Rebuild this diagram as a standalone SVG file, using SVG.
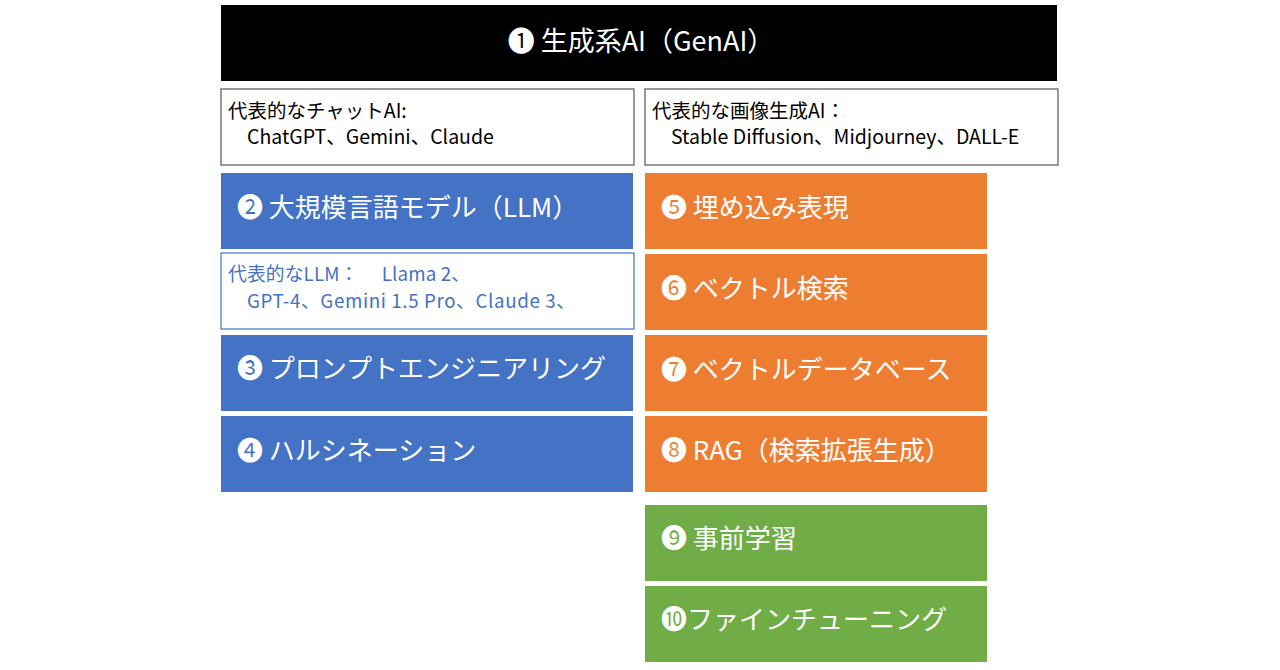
<svg xmlns="http://www.w3.org/2000/svg" width="1280" height="670" viewBox="0 0 1280 670">
<style>
text{font-family:"Noto Sans CJK JP","DejaVu Sans",sans-serif}
.big{font-size:26px;fill:#fff}
.sm{font-size:19.5px;fill:#000}
.smb{font-size:18.8px;fill:#4472C4}
.blue{fill:#4472C4}
.orange{fill:#ED7D31}
.green{fill:#70AD47}
.note{fill:#fff;stroke:#555;stroke-width:1.2}
</style>
<rect width="1280" height="670" fill="#fff"/>
<g id="n1"><rect x="221" y="5" width="836" height="76" fill="#000"/><text x="641" y="51" text-anchor="middle" class="big" style="font-size:27px">❶ 生成系AI（GenAI）</text></g>
<g id="chat"><rect x="221" y="89" width="413" height="76" class="note"/><text x="228" y="118" class="sm">代表的なチャットAI:</text><text x="247" y="144" class="sm">ChatGPT、Gemini、Claude</text></g>
<g id="img"><rect x="645" y="89" width="413" height="76" class="note"/><text x="652" y="118" class="sm">代表的な画像生成AI：</text><text x="671" y="144" class="sm">Stable Diffusion、Midjourney、DALL-E</text></g>
<g id="n2"><rect x="221" y="173" width="412" height="76" class="blue"/><text x="237" y="217" class="big">❷ 大規模言語モデル（LLM）</text></g>
<g id="llm"><rect x="221" y="253" width="413" height="76" fill="#fff" stroke="#4472C4" stroke-width="1.2"/><text x="228" y="281" class="smb" textLength="242" lengthAdjust="spacing">代表的なLLM：　 Llama 2、</text><text x="247" y="308" class="smb" textLength="328" lengthAdjust="spacing">GPT-4、Gemini 1.5 Pro、Claude 3、</text></g>
<g id="n3"><rect x="221" y="335" width="412" height="76" class="blue"/><text x="237" y="378" class="big">❸ プロンプトエンジニアリング</text></g>
<g id="n4"><rect x="221" y="416" width="412" height="76" class="blue"/><text x="237" y="460" class="big">❹ ハルシネーション</text></g>
<g id="n5"><rect x="645" y="173" width="342" height="76" class="orange"/><text x="661" y="217" class="big">❺ 埋め込み表現</text></g>
<g id="n6"><rect x="645" y="254" width="342" height="76" class="orange"/><text x="661" y="298" class="big">❻ ベクトル検索</text></g>
<g id="n7"><rect x="645" y="335" width="342" height="76" class="orange"/><text x="661" y="379" class="big">❼ ベクトルデータベース</text></g>
<g id="n8"><rect x="645" y="416" width="342" height="76" class="orange"/><text x="661" y="460" class="big">❽ RAG（検索拡張生成）</text></g>
<g id="n9"><rect x="645" y="505" width="342" height="76" class="green"/><text x="661" y="548" class="big">❾ 事前学習</text></g>
<g id="n10"><rect x="645" y="586" width="342" height="76" class="green"/><text x="661" y="629" class="big">❿ファインチューニング</text></g>
<g id="connectors"></g>
</svg>
